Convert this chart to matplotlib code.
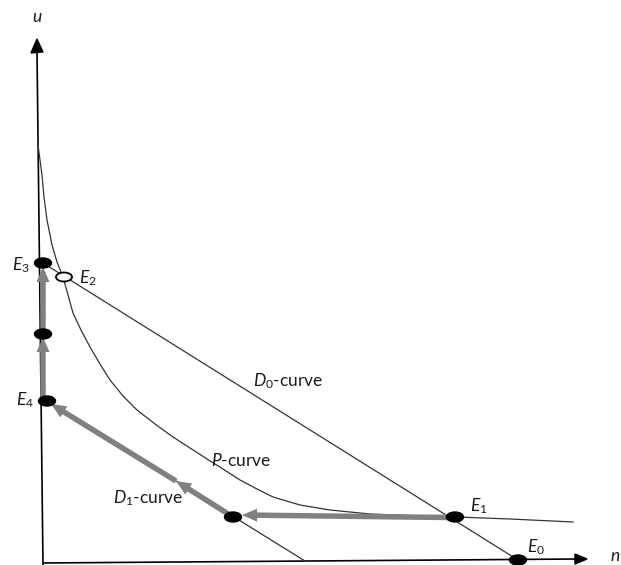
import matplotlib
matplotlib.use("Agg")
import matplotlib.pyplot as plt
from matplotlib.patches import Ellipse, FancyArrow, Polygon

plt.rcParams["font.family"] = ["Lato", "DejaVu Sans"]
plt.rcParams["mathtext.fontset"] = "custom"
plt.rcParams["mathtext.it"] = "Lato:italic"
plt.rcParams["mathtext.rm"] = "Lato"

# Equilibria in the (n, u) plane
eq_names = ["E0", "E1", "E2", "E3", "E4"]
eq_n = [475, 412, 21, 0, 4]
eq_u = [3, 46, 286, 300, 162]

# Intermediate adjustment points (n, u)
mid_n = [190, 0]
mid_u = [46, 229]

# P-curve
p_n = [-5, -1, 1, 4, 9, 14, 20, 25, 30, 38, 47, 57, 67, 80, 94, 112, 130,
       147, 164, 180, 197, 214, 230, 257, 287, 327, 377, 414, 467, 530]
p_u = [418, 388, 366, 343, 318, 301, 286, 268, 250, 233, 216, 199, 183, 167,
       153, 139, 126, 115, 104, 94, 83, 74, 66, 58, 53, 49, 47, 46, 44, 41]

# D0 and D1 demand lines
d0_n = [0, 475]
d0_u = [300, 3]
d1_n = [4, 262]
d1_u = [162, 2]

# Adjustment path: (start n, start u, end n, end u)
path_start_n = [405, 190, 133, 0, 0]
path_start_u = [45.5, 46, 82, 164, 231]
path_end_n = [199, 133, 8, 0, 0]
path_end_u = [48, 82, 159, 226, 296]

fig = plt.figure(figsize=(6.21, 5.65), dpi=100)
ax = fig.add_axes([0, 0, 1, 1])
ax.set_xlim(-43, 578)
ax.set_ylim(-2, 563)
ax.axis("off")

ink = "#333333"
grey = "#808080"

# axes with arrow heads
ax.plot([0, -6], [-3, 512], color="black", lw=1.2, zorder=2)
ax.add_patch(Polygon([[-6, 524], [-12, 510], [0, 511]], closed=True,
                     color="black", zorder=3))
ax.plot([0, 534], [0, 4], color="black", lw=1.2, zorder=2)
ax.add_patch(Polygon([[544, 4], [532, 9], [532, -1]], closed=True,
                     color="black", zorder=3))

# curves
ax.plot(p_n, p_u, color=ink, lw=0.9, zorder=2)
ax.plot(d0_n, d0_u, color=ink, lw=0.9, zorder=2)
ax.plot(d1_n, d1_u, color=ink, lw=0.9, zorder=2)

# adjustment arrows
for sn, su, en, eu in zip(path_start_n, path_start_u, path_end_n, path_end_u):
    ax.add_patch(FancyArrow(sn, su, en - sn, eu - su, width=5.5,
                            head_width=13, head_length=15,
                            length_includes_head=True, color=grey,
                            lw=0, zorder=4))

# equilibrium markers
for name, n, u in zip(eq_names, eq_n, eq_u):
    if name == "E2":
        ax.add_patch(Ellipse((n, u), 16, 9, facecolor="white",
                             edgecolor="black", lw=1.3, zorder=5))
    else:
        ax.add_patch(Ellipse((n, u), 17, 10, color="black", zorder=5))
for n, u in zip(mid_n, mid_u):
    ax.add_patch(Ellipse((n, u), 17, 10, color="black", zorder=5))

# labels
lab = dict(fontsize=12.5, color="#1a1a1a", zorder=6)
ax.text(-22, 298, r"$E_{\mathit{3}}$", ha="center", va="center", **lab)
ax.text(45, 285, r"$E_{\mathit{2}}$", ha="center", va="center", **lab)
ax.text(-18, 163, r"$E_{\mathit{4}}$", ha="center", va="center", **lab)
ax.text(436, 57, r"$E_{\mathit{1}}$", ha="center", va="center", **lab)
ax.text(493, 16, r"$E_{\mathit{0}}$", ha="center", va="center", **lab)

curve = dict(fontsize=12.5, color="#1a1a1a", zorder=6)
ax.text(210, 182, r"$D_{\mathit{0}}$-curve", ha="left", va="center", **curve)
ax.text(168, 103, r"$P$-curve", ha="left", va="center", **curve)
ax.text(70, 65, r"$D_{\mathit{1}}$-curve", ha="left", va="center", **curve)

ax.text(-6, 546, "u", fontsize=12.5, style="italic", ha="center",
        va="center", color="#1a1a1a")
ax.text(567, 7, "n", fontsize=12.5, style="italic", ha="left",
        va="center", color="#1a1a1a")

fig.savefig("out.png", dpi=100)
